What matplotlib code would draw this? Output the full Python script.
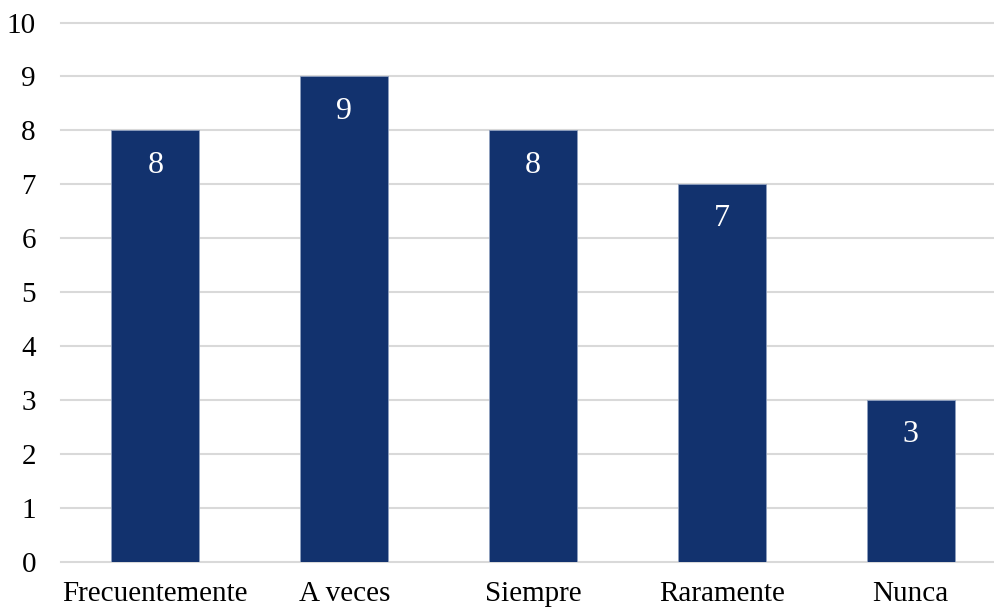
import matplotlib
matplotlib.use("Agg")
import matplotlib.pyplot as plt

# Response frequency counts
categories = ["Frecuentemente", "A veces", "Siempre", "Raramente", "Nunca"]
counts = [8, 9, 8, 7, 3]
y_ticks = list(range(0, 11))

BAR_COLOR = "#12326E"
GRID_COLOR = "#D9D9D9"

plt.rcParams["font.family"] = ["Liberation Serif", "DejaVu Serif"]

fig = plt.figure(figsize=(9.94, 6.10), dpi=100)
# plot area runs slightly past the right edge of the canvas
ax = fig.add_axes([61 / 994, 1 - 561.5 / 610, 944 / 994, (561.5 - 22.6) / 610])

x = range(len(categories))
bars = ax.bar(x, counts, width=0.466, color=BAR_COLOR, edgecolor="#8FA0BF",
              linewidth=0.6, zorder=3)

for b, v in zip(bars, counts):
    ax.annotate(str(v), (b.get_x() + b.get_width() / 2, v),
                xytext=(0, -25), textcoords="offset points",
                ha="center", va="center", color="white", fontsize=23, zorder=4)

ax.set_xlim(-0.5, len(categories) - 0.5)
ax.set_ylim(0, 10)
ax.set_yticks(y_ticks)
ax.set_xticks(list(x))
ax.set_xticklabels(categories)
ax.tick_params(axis="both", length=0, labelsize=21, colors="black")
ax.tick_params(axis="y", pad=18)
ax.tick_params(axis="x", pad=14)

ax.grid(axis="y", color=GRID_COLOR, linewidth=1.5, zorder=0)
for gl in ax.get_ygridlines():
    gl.set_clip_on(False)
for s in ax.spines.values():
    s.set_visible(False)

fig.savefig("out.png", dpi=100)
